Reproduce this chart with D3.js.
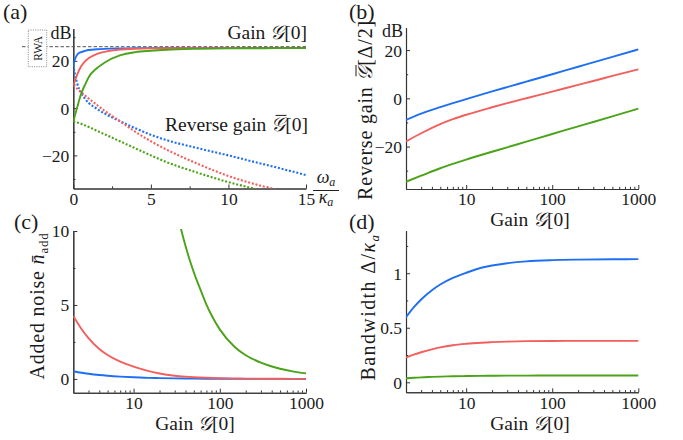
<!DOCTYPE html>
<html><head><meta charset="utf-8">
<script src="https://cdn.jsdelivr.net/npm/d3@7"></script>
<style>
body{margin:0;background:#fff;}
svg text{font-family:"Liberation Serif","Times New Roman",serif;fill:#1a1a1a;}
</style></head><body>
<svg id="c" width="683" height="440"></svg>
<script>
// ---------- data ----------
const colors = ["#1f6ff2", "#f25f5c", "#4aa318"];
// panel (a): x = omega_a / kappa_a
const omega = [0,0.1,0.25,0.5,0.75,1,1.5,2,3,4,5,6,8,10,12,13,14,15];
const gainBlueA  = [18.3,20.5,22.6,23.7,24.2,24.6,24.9,25.1,25.3,25.4,25.4,25.4,25.4,25.4,25.4,25.4,25.4,25.4];
const gainRedA   = [9.6,11.5,14.2,17.6,19.8,21.2,22.9,23.8,24.8,25.1,25.3,25.4,25.4,25.4,25.4,25.4,25.4,25.4];
const gainGreenA = [-5.7,-3.2,0.3,6,9.8,13.2,16.8,19.2,22.3,23.7,24.3,24.7,25.1,25.3,25.35,25.4,25.4,25.4];
const revBlueA   = [18.3,14.5,10.5,6.5,4,2.2,-0.2,-2.2,-5.5,-8.5,-11.3,-13.5,-16.9,-20,-23.3,-24.9,-26.6,-28.3];
const revRedA    = [9.6,9.0,8.2,6.8,5.4,4,1.5,-1,-5.5,-10,-14,-17.5,-23.5,-28.7,-32.7,-34.3,-36,-37.5];
const revGreenA  = [-5.7,-5.85,-6.1,-6.6,-7.3,-8,-9.5,-11,-14,-17,-20,-22.8,-27.3,-31.3,-34.6,-36.2,-37.8,-39.3];
const rwaLevel = 26;
const xTicksA = [0,5,10,15], xMinorA = [2.5,7.5,12.5];
const yTicksA = [-20,0,20], yMinorA = [-30,-10,10,30];
// panel (b): reverse gain at Delta/2 vs gain
const gainsB = [2,3,5,7,10,20,30,50,100,200,300,500,1000];
const revBlueB  = [-8.95,-6.3,-3.65,-2.0,-0.33,2.86,4.67,6.93,10.0,13.1,14.9,17.2,20.3];
const revRedB   = [-17.9,-14.47,-10.7,-8.66,-6.8,-3.7,-2.0,0.05,2.8,5.6,7.2,9.3,12];
const revGreenB = [-34.6,-32.1,-29.0,-27.2,-25.4,-22.15,-20.3,-17.96,-14.8,-11.6,-9.8,-7.5,-4.3];
const yTicksB = [-20,0,20], yMinorB = [-30,-10,10];
// panel (c): added noise vs gain
const gainsC = [2,2.5,3,4,5,7,10,15,20,30,40,50,70,100,150,200,300,500,700,1000];
const noiseBlue  = [0.52,0.42,0.354,0.269,0.218,0.158,0.11,0.074,0.055,0.036,0.027,0.021,0.015,0.01,0.007,0.005,0.0035,0.002,0.0015,0.001];
const noiseRed   = [4.26,3.36,2.76,2.03,1.62,1.17,0.83,0.53,0.37,0.22,0.156,0.118,0.079,0.051,0.033,0.024,0.015,0.0085,0.006,0.004];
const gainsCGreen = [30,36,40,50,60,70,80,100,150,200,300,500,700,1000];
const noiseGreen  = [12.2,10,9.0,7.2,6.0,5.03,4.32,3.35,2.14,1.6,1.1,0.69,0.51,0.38];
const yTicksC = [0,5,10], yMinorC = [2.5,7.5];
// panel (d): bandwidth vs gain
const gainsD = [2,2.5,3,4,5,7,10,15,20,30,50,100,200,500,1000];
const bwBlue  = [0.596,0.693,0.759,0.844,0.896,0.957,1.004,1.05,1.071,1.092,1.109,1.12,1.125,1.128,1.129];
const bwRed   = [0.226,0.255,0.275,0.302,0.32,0.34,0.353,0.363,0.368,0.373,0.377,0.379,0.38,0.38,0.38];
const bwGreen = [0.037,0.041,0.045,0.049,0.052,0.055,0.057,0.059,0.06,0.061,0.061,0.062,0.062,0.062,0.062];
const yTicksD = [0,0.5,1], yMinorD = [0.25,0.75,1.25];
const logMajor = [10,100,1000];

// ---------- drawing ----------
const svg = d3.select("#c");
const fmt = d => d < 0 ? "\u2212" + Math.abs(d) : String(d);
const logMinor = [];
[1,10,100].forEach(b => { for (let k=2;k<=9;k++) { const v=k*b; if (v>2 && v<1000) logMinor.push(v); } });

let clipId = 0;
function panel(o){
  const g = svg.append("g");
  const x = (o.log ? d3.scaleLog() : d3.scaleLinear()).domain(o.xDomain).range([o.left, o.right]);
  const y = d3.scaleLinear().domain(o.yDomain).range([o.bottom, o.top]);
  const style = sel => { sel.attr("font-family", null).attr("font-size", null).attr("color", "#333");
    sel.selectAll("text").attr("font-size", 17.5).attr("fill", "#1a1a1a");
    sel.selectAll("path.domain").attr("stroke-width", 1.1); };
  g.append("g").attr("transform", `translate(0,${o.bottom})`)
    .call(d3.axisBottom(x).tickValues(o.xMinor).tickFormat("").tickSizeInner(-2.2).tickSizeOuter(0)).call(style);
  g.append("g").attr("transform", `translate(${o.left},0)`)
    .call(d3.axisLeft(y).tickValues(o.yMinor).tickFormat("").tickSizeInner(-2.2).tickSizeOuter(0)).call(style);
  g.append("g").attr("transform", `translate(0,${o.bottom})`)
    .call(d3.axisBottom(x).tickValues(o.xMajor).tickFormat(fmt).tickSizeInner(-4).tickSizeOuter(0).tickPadding(4)).call(style);
  g.append("g").attr("transform", `translate(${o.left},0)`)
    .call(d3.axisLeft(y).tickValues(o.yMajor).tickFormat(fmt).tickSizeInner(-4).tickSizeOuter(0).tickPadding(4)).call(style)
    .selectAll("text").attr("dy", "0.34em");
  const id = "clip" + (clipId++);
  svg.append("clipPath").attr("id", id).append("rect")
    .attr("x", o.left).attr("y", o.top - 2).attr("width", o.right - o.left + 1).attr("height", o.bottom - o.top + 2);
  const plot = g.append("g").attr("clip-path", `url(#${id})`);
  return {x, y, plot, g};
}
function drawLine(p, xs, ys, color, dotted){
  const line = d3.line().defined((d,i) => ys[i] !== null)
    .x((d,i) => p.x(xs[i])).y((d,i) => p.y(ys[i])).curve(d3.curveMonotoneX);
  p.plot.append("path").datum(xs).attr("d", line).attr("fill", "none")
    .attr("stroke", color).attr("stroke-width", dotted ? 2.1 : 1.9)
    .attr("stroke-dasharray", dotted ? "2,1.8" : null);
}
function txt(x, y, html, size, anchor, extra){
  const t = svg.append("text").attr("x", x).attr("y", y).attr("font-size", size)
    .attr("text-anchor", anchor || "start").html(html);
  if (extra) extra(t);
  addBars(t, size);
  return t;
}
// draw a bar over every tspan with class "bar" (G-bar)
function addBars(t, size){
  t.selectAll("tspan.bar").each(function(){
    const s = this.getStartPositionOfChar(0);
    svg.append("line").attr("transform", t.attr("transform"))
      .attr("x1", s.x + 0.22*size).attr("x2", s.x + 0.78*size)
      .attr("y1", s.y - 0.8*size).attr("y2", s.y - 0.8*size)
      .attr("stroke", "#1a1a1a").attr("stroke-width", 1);
  });
}
const G = '<tspan font-family="DejaVu Serif, serif" font-style="italic">\uD835\uDCA2</tspan>';
const Gbar = '<tspan class="bar" font-family="DejaVu Serif, serif" font-style="italic">\uD835\uDCA2</tspan>';

// panel (a)
const pa = panel({left:73.3, right:306, top:28.5, bottom:188.5, xDomain:[0,15], yDomain:[-34,33.7],
  xMajor:xTicksA, xMinor:xMinorA, yMajor:yTicksA, yMinor:yMinorA});
svg.append("line").attr("x1", 22).attr("x2", 306).attr("y1", pa.y(rwaLevel)).attr("y2", pa.y(rwaLevel))
  .attr("stroke", "#555").attr("stroke-width", 1).attr("stroke-dasharray", "3.5,2");
svg.append("rect").attr("x", 28.3).attr("y", 30).attr("width", 18.4).attr("height", 36.7)
  .attr("fill", "#fff").attr("stroke", "#777").attr("stroke-width", 0.9).attr("stroke-dasharray", "1,1.3");
txt(0, 0, "RWA", 11.5, "middle", t => t.attr("transform", "translate(41.5,48.3) rotate(-90)").attr("fill", "#666"));
[revBlueA, revRedA, revGreenA].forEach((s,i) => drawLine(pa, omega, s, colors[i], true));
[gainBlueA, gainRedA, gainGreenA].forEach((s,i) => drawLine(pa, omega, s, colors[i], false));
txt(71.5, 39, "dB", 18, "end");
txt(307, 39, "Gain " + G + "[0]", 19.5, "end");
txt(308, 131, "Reverse gain " + Gbar + "[0]", 19.5, "end");
txt(326, 183, '<tspan font-style="italic">ω</tspan><tspan font-size="12" font-style="italic" dy="2.5">a</tspan>', 18, "middle");
svg.append("line").attr("x1", 313).attr("x2", 339).attr("y1", 190.5).attr("y2", 190.5).attr("stroke", "#222").attr("stroke-width", 1);
txt(326, 203, '<tspan font-style="italic">κ</tspan><tspan font-size="12" font-style="italic" dy="2.5">a</tspan>', 18, "middle");

// panel (b)
const pb = panel({left:406, right:638.3, top:27.7, bottom:189, log:true, xDomain:[2,1000], yDomain:[-37.6,29.3],
  xMajor:logMajor, xMinor:logMinor, yMajor:yTicksB, yMinor:yMinorB});
[revBlueB, revRedB, revGreenB].forEach((s,i) => drawLine(pb, gainsB, s, colors[i], false));
txt(403, 37, "dB", 18, "end");
txt(0, 0, "Reverse gain " + Gbar + "[Δ/2]", 20, "middle", t => t.attr("transform", "translate(372,110) rotate(-90)").attr("letter-spacing", 0.8));
txt(530, 226, "Gain " + G + "[0]", 19.5, "middle");

// panel (c)
const pc = panel({left:73.3, right:306, top:231, bottom:392.7, log:true, xDomain:[2,1000], yDomain:[-0.93,10],
  xMajor:logMajor, xMinor:logMinor, yMajor:yTicksC, yMinor:yMinorC});
drawLine(pc, gainsC, noiseBlue, colors[0], false);
drawLine(pc, gainsC, noiseRed, colors[1], false);
drawLine(pc, gainsCGreen, noiseGreen, colors[2], false);
txt(0, 0, 'Added noise <tspan font-style="italic">n\u0304</tspan><tspan font-size="13" dy="4">add</tspan>', 20, "middle",
  t => t.attr("transform", "translate(44,306) rotate(-90)").attr("letter-spacing", 0.8));
txt(195, 430, "Gain " + G + "[0]", 19.5, "middle");

// panel (d)
const pd = panel({left:406, right:638.3, top:230.7, bottom:392.3, log:true, xDomain:[2,1000], yDomain:[-0.092,1.39],
  xMajor:logMajor, xMinor:logMinor, yMajor:yTicksD, yMinor:yMinorD});
[bwBlue, bwRed, bwGreen].forEach((s,i) => drawLine(pd, gainsD, s, colors[i], false));
txt(0, 0, 'Bandwidth Δ/<tspan font-style="italic">κ</tspan><tspan font-size="13" font-style="italic" dy="4">a</tspan>', 20, "middle",
  t => t.attr("transform", "translate(375,307) rotate(-90)").attr("letter-spacing", 1.4));
txt(530, 430, "Gain " + G + "[0]", 19.5, "middle");

// panel labels
txt(3, 19, "(a)", 22, "start");
txt(349, 19, "(b)", 22, "start");
txt(14, 229, "(c)", 22, "start");
txt(349, 229, "(d)", 22, "start");
</script></body></html>
